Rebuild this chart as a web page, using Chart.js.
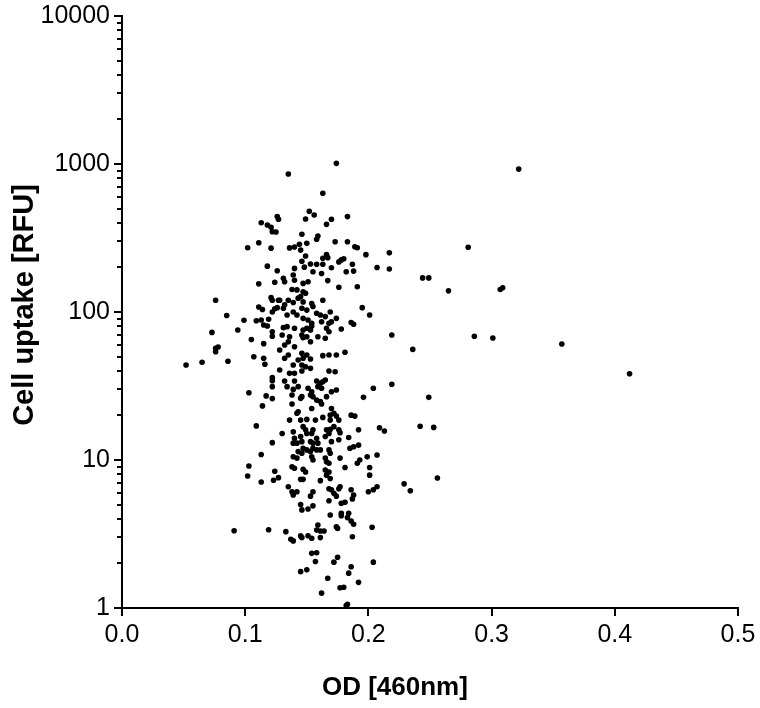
<!DOCTYPE html>
<html><head><meta charset="utf-8">
<script src="https://cdn.jsdelivr.net/npm/chart.js@4.4.1/dist/chart.umd.min.js"></script>
<style>html,body{margin:0;padding:0;background:#fff}#wrap{width:760px;height:708px}</style>
</head><body><div id="wrap"><canvas id="c" width="760" height="708"></canvas></div>
<script>
// OD [460nm] of each sample
const odValues = [
0.126,0.127,0.113,0.118,0.121,0.122,0.125,0.111,0.102,0.121,
0.174,0.135,0.163,0.152,0.156,0.149,0.170,0.183,0.166,0.146,0.159,0.158,0.173,0.183,0.150,0.144,0.136,0.140,0.145,0.189,0.191,0.198,0.149,0.166,0.163,0.167,0.180,0.178,0.176,0.146,0.153,0.158,0.163,0.187,
0.322,0.281,0.217,0.217,0.244,0.249,0.265,0.307,0.309,0.219,0.236,0.286,0.301,0.357,0.412,0.219,0.249,0.213,0.242,0.253,0.256,0.229,0.234,
0.118,0.126,0.111,0.124,0.121,0.122,0.127,0.076,0.111,0.114,0.122,0.124,0.126,0.085,0.099,0.109,0.113,0.119,0.115,0.118,0.094,0.073,0.122,0.122,0.105,0.115,0.076,0.078,0.076,0.107,0.115,0.116,0.052,0.065,0.086,0.122,
0.140,0.148,0.155,0.162,0.170,0.182,0.188,0.207,0.131,0.132,
0.139,0.140,0.147,0.151,0.167,0.176,0.191,0.138,0.142,0.147,
0.149,0.143,0.145,0.135,0.128,0.132,0.131,0.139,0.147,0.154,
0.155,0.163,0.169,0.158,0.161,0.146,0.150,0.139,0.142,0.134,
0.174,0.165,0.195,0.201,0.147,0.151,0.154,0.162,0.168,0.170,
0.186,0.188,0.178,0.131,0.134,0.140,0.147,0.150,0.154,0.153,
0.166,0.168,0.130,0.136,0.146,0.147,0.150,0.153,0.159,0.165,
0.135,0.132,0.140,0.128,0.135,0.132,0.146,0.147,0.150,0.153,
0.143,0.163,0.168,0.174,0.181,0.139,0.146,0.149,0.153,0.168,
0.173,0.136,0.140,0.146,0.128,
0.122,0.103,0.122,0.117,0.122,0.114,0.109,0.122,0.113,0.103,0.102,0.124,0.113,0.123,0.127,
0.132,0.140,0.158,0.161,0.163,0.165,0.134,0.139,0.143,0.151,
0.154,0.153,0.155,0.159,0.162,0.170,0.174,0.138,0.146,0.145,
0.158,0.161,0.162,0.166,0.196,0.204,0.138,0.143,0.142,0.154,
0.170,0.172,0.169,0.174,0.176,0.186,0.189,0.136,0.145,0.150,
0.157,0.163,0.169,0.209,0.192,0.130,0.139,0.147,0.149,0.150,
0.154,0.155,0.166,0.168,0.169,0.172,0.176,0.177,0.165,0.140,
0.145,0.146,0.142,0.139,0.153,0.155,0.158,0.159,0.170,0.176,
0.184,0.147,0.150,0.153,0.155,0.158,0.161,0.143,0.146,0.168,
0.169,0.185,0.188,0.192,0.207,0.139,0.142,0.155,0.154,0.165,
0.166,0.168,0.177,0.193,0.199,0.191,0.138,0.140,0.147,0.149,
0.165,0.168,0.181,0.201,0.201,0.145,0.147,0.161,0.166,0.169,
0.207,0.204,0.135,0.138,0.142,0.155,0.168,0.170,0.172,0.176,
0.177,0.186,0.188,0.200,
0.091,0.119,
0.139,0.153,0.168,0.174,0.178,0.181,0.187,0.145,0.146,0.151,
0.155,0.169,0.178,0.178,0.184,0.183,0.186,0.188,0.159,0.158,
0.161,0.164,0.174,0.175,0.133,0.137,0.139,0.145,0.146,0.151,
0.154,0.161,0.187,0.203,0.154,0.158,0.157,0.172,0.175,0.186,
0.184,0.204,0.145,0.150,0.167,0.192,0.177,0.180,0.162,0.182,
0.183
];
// Cell uptake [RFU] of each sample (same order)
const rfuValues = [
441,423,401,387,374,349,347,294,272,270,
1010,856,634,479,452,425,423,441,391,335,326,310,298,298,291,287,271,275,262,276,272,244,239,244,231,233,229,225,218,220,211,210,210,210,
924,274,251,195,170,170,139,142,146,70,55.9,68.6,66.7,60.8,38.3,32.5,26.5,15.7,16.9,16.6,7.56,6.9,6.2,
204,190,155,159,125,120,120,120,108,104,100,105,107,94.6,87.9,87.3,88.3,89.3,81.7,80.4,75.6,72.8,73.5,68.5,65.1,61.1,56.8,58,53.9,49.8,48.7,44.4,43.8,45.8,46.5,36,
197,201,187,182,199,187,189,200,169,160,
178,164,156,160,163,147,148,142,141,137,
134,124,127,120,120,112,106,116,117,114,
109,120,100,98,95.4,106,103,100,95.4,95.4,
90.6,93.1,107,95.4,90.6,88.3,83.8,86,83.8,86,
85,82.6,76.8,78.4,79.6,77.6,75.6,77.6,80.4,75.6,
77.6,73.5,69.9,68.1,69.9,67.1,68.1,62.9,68.1,66.5,
62.9,59.8,58.3,55.4,51.2,48.7,52.6,48.7,51.2,48.1,
47.4,50.7,51.2,51.2,53.4,43.8,43.8,42.7,41.6,39.9,
39.5,38.5,38.5,39.9,40.6,
34.3,28.5,31.3,27.1,26,23.2,17,13.1,10.9,9.1,7.8,8.4,7.1,7.3,7.6,
34.2,34.2,34.2,33.0,33.8,34.7,31.3,30.0,31.3,30.5,
28.9,27.5,26.8,31.3,30.5,28.9,29.7,27.5,26.8,26.1,
25.4,24.8,23.9,26.8,26.5,30.5,23.9,21.2,20.7,22.3,
22.3,20.7,20.1,19.8,18.6,20.1,19.8,18.6,18.6,18.8,
18.6,19.4,18.6,16.5,16.0,15.1,15.5,16.8,16.0,15.1,
15.1,16.0,16.0,15.1,16.1,16.8,16.0,15.3,14.4,14.0,
14.4,13.3,13.0,13.0,13.3,13.0,14.0,13.0,13.3,13.7,
14.2,12.0,11.7,11.4,12.0,11.7,11.7,11.4,11.1,11.7,
11.1,12.0,12.3,12.6,10.8,10.5,10.3,10,10.5,10.3,
9.74,9.5,10.3,10,10.5,9.5,9.0,8.8,8.66,8.3,
8.56,8.3,8.9,8.9,7.9,7.4,7.4,7.25,7.9,7.5,
6.6,6.3,6.6,6.1,6.1,6.1,6.4,6.3,5.96,6.4,
6.6,6.3,5.8,6.1,
3.33,3.38,
5.8,5.7,5.3,5.7,5.1,5.18,5.46,5.0,4.6,4.67,
4.9,4.25,4.37,4.2,4.37,4.08,3.87,3.68,3.64,3.36,
3.31,3.31,3.54,3.45,3.28,2.91,2.84,3.07,2.99,3.08,
2.96,2.99,3.03,3.51,2.34,2.36,2.06,2.04,2.2,1.9,
1.72,2.04,1.76,1.81,1.59,1.49,1.37,1.38,1.26,1.04,
1.06
];
const xTickValues = [0, 0.1, 0.2, 0.3, 0.4, 0.5];
const yMajorTicks = [1, 10, 100, 1000, 10000];
const yMinorMultipliers = [2, 3, 4, 5, 6, 7, 8, 9];
const xTitle = 'OD [460nm]';
const yTitle = 'Cell uptake [RFU]';
const FONT = '"Liberation Sans", Arial, Helvetica, sans-serif';

const n = Math.min(odValues.length, rfuValues.length);
const points = [];
for (let i = 0; i < n; i++) points.push({x: odValues[i], y: rfuValues[i]});

function clearScalePadding(s) {
  s.paddingTop = 0; s.paddingBottom = 0; s.paddingLeft = 0; s.paddingRight = 0;
}

const axisDecor = {
  id: 'axisDecor',
  afterDraw(chart) {
    const {ctx, chartArea: a, scales: {x, y}} = chart;
    ctx.save();
    ctx.strokeStyle = '#000';
    ctx.lineWidth = 2;
    ctx.beginPath();
    yMajorTicks.forEach(v => {
      const py = Math.round(y.getPixelForValue(v));
      ctx.moveTo(a.left - 8, py); ctx.lineTo(a.left, py);
    });
    for (let k = 0; k < yMajorTicks.length - 1; k++) {
      yMinorMultipliers.forEach(m => {
        const py = Math.round(y.getPixelForValue(yMajorTicks[k] * m));
        ctx.moveTo(a.left - 5, py); ctx.lineTo(a.left, py);
      });
    }
    xTickValues.forEach(v => {
      const px = Math.round(x.getPixelForValue(v));
      ctx.moveTo(px, a.bottom); ctx.lineTo(px, a.bottom + 8);
    });
    ctx.stroke();
    ctx.fillStyle = '#000';
    ctx.textAlign = 'center';
    ctx.textBaseline = 'middle';
    ctx.font = 'bold 26px ' + FONT;
    ctx.fillText(xTitle, a.left + (a.right - a.left) * 0.443, a.bottom + 80);
    ctx.font = 'bold 29px ' + FONT;
    ctx.translate(a.left - 97, (a.top + a.bottom) / 2 - 7);
    ctx.rotate(-Math.PI / 2);
    ctx.fillText(yTitle, 0, 0);
    ctx.restore();
  }
};

new Chart(document.getElementById('c'), {
  type: 'scatter',
  data: {datasets: [{
    data: points,
    backgroundColor: '#000',
    borderColor: '#000',
    borderWidth: 0,
    pointRadius: 2.8,
    pointHoverRadius: 2.8
  }]},
  options: {
    responsive: false,
    animation: false,
    devicePixelRatio: 1,
    layout: {autoPadding: false, padding: {top: 16, right: 22, left: 0, bottom: 0}},
    plugins: {legend: {display: false}, tooltip: {enabled: false}},
    scales: {
      x: {
        type: 'linear', min: 0, max: 0.5,
        afterFit(s) { s.height = 100; clearScalePadding(s); },
        afterBuildTicks(s) { s.ticks = xTickValues.map(v => ({value: v})); },
        grid: {display: false, drawTicks: false},
        border: {display: true, color: '#000', width: 2},
        ticks: {padding: 12, color: '#000', font: {family: FONT, size: 25}, maxRotation: 0, autoSkip: false,
                callback: v => Number(v).toFixed(1)}
      },
      y: {
        type: 'logarithmic', min: 1, max: 10000,
        afterFit(s) { s.width = 122; clearScalePadding(s); },
        afterBuildTicks(s) { s.ticks = yMajorTicks.map(v => ({value: v})); },
        grid: {display: false, drawTicks: false},
        border: {display: true, color: '#000', width: 2},
        ticks: {padding: 12, color: '#000', font: {family: FONT, size: 25}, autoSkip: false,
                callback: v => String(v)}
      }
    }
  },
  plugins: [axisDecor]
});
</script>
</body></html>
